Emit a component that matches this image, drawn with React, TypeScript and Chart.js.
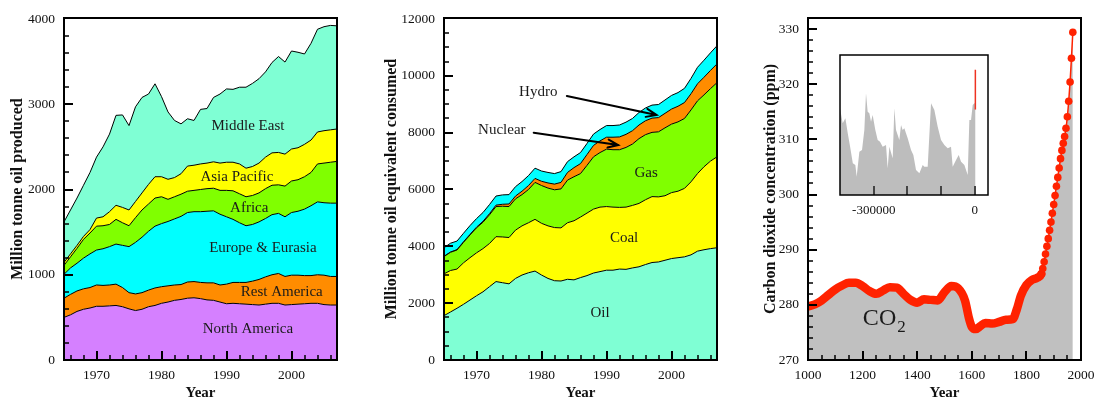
import React, { useEffect, useRef } from "react";
import { Chart, registerables } from "chart.js";

Chart.register(...registerables);

const FONT = "'Liberation Serif', 'DejaVu Serif', serif";

// ---------------- Shared years (panels 1 & 2) ----------------
const years = [
  1965, 1966, 1967, 1968, 1969, 1970, 1971, 1972, 1973, 1974,
  1975, 1976, 1977, 1978, 1979, 1980, 1981, 1982, 1983, 1984,
  1985, 1986, 1987, 1988, 1989, 1990, 1991, 1992, 1993, 1994,
  1995, 1996, 1997, 1998, 1999, 2000, 2001, 2002, 2003, 2004,
  2005, 2006, 2007,
];

// ---------------- Panel 1: oil production by region (Mt) ----------------
const regionNames = ["North America", "Rest America", "Europe & Eurasia", "Africa", "Asia Pacific", "Middle East"];
const northAmerica = [500, 530, 570, 595, 610, 630, 630, 635, 640, 625, 600, 580, 595, 625, 640, 665, 680, 700, 710, 725, 730, 720, 705, 700, 680, 660, 665, 660, 655, 650, 645, 655, 665, 665, 645, 650, 655, 660, 665, 665, 650, 645, 645];
const restAmerica = [225, 240, 240, 240, 240, 250, 245, 245, 250, 225, 190, 195, 195, 195, 205, 195, 190, 180, 175, 190, 190, 190, 200, 205, 200, 230, 245, 250, 255, 275, 300, 320, 335, 350, 335, 345, 340, 330, 325, 335, 345, 335, 335];
const europeEurasia = [280, 310, 325, 360, 395, 410, 430, 450, 470, 495, 540, 605, 650, 690, 725, 740, 755, 775, 800, 815, 820, 830, 840, 845, 830, 790, 740, 700, 665, 665, 675, 685, 705, 705, 700, 735, 750, 780, 820, 855, 850, 860, 860];
const africa = [105, 130, 175, 220, 245, 280, 270, 260, 290, 265, 245, 290, 320, 320, 330, 315, 260, 260, 260, 250, 250, 260, 265, 265, 280, 310, 335, 340, 340, 340, 340, 350, 345, 335, 360, 370, 370, 380, 390, 445, 465, 480, 490];
const asiaPacific = [35, 35, 35, 35, 40, 95, 105, 150, 165, 180, 185, 190, 200, 230, 250, 235, 235, 225, 240, 295, 295, 300, 300, 310, 320, 330, 335, 350, 335, 340, 350, 370, 380, 380, 375, 375, 375, 380, 380, 375, 380, 380, 380];
const middleEast = [475, 515, 555, 600, 670, 715, 820, 910, 1055, 1085, 990, 1110, 1120, 1060, 1090, 940, 790, 670, 585, 555, 525, 640, 640, 755, 810, 860, 855, 900, 950, 975, 990, 1000, 1060, 1125, 1080, 1150, 1120, 1060, 1135, 1205, 1220, 1225, 1210];
const regionColors = ["#d580ff", "#ff8c00", "#00ffff", "#80ff00", "#ffff00", "#7fffd4"];
const oilXTicks = [1970, 1980, 1990, 2000];
const oilYTicks = [0, 1000, 2000, 3000, 4000];

// ---------------- Panel 2: primary energy consumption (Mtoe) ----------------
const fuelNames = ["Oil", "Coal", "Gas", "Nuclear", "Hydro"];
const oil = [1560, 1690, 1820, 1960, 2110, 2260, 2400, 2580, 2760, 2720, 2680, 2870, 2990, 3070, 3130, 2990, 2870, 2790, 2780, 2840, 2820, 2900, 2970, 3060, 3110, 3160, 3160, 3200, 3190, 3240, 3280, 3360, 3430, 3450, 3510, 3570, 3600, 3630, 3700, 3830, 3880, 3920, 3950];
const coal = [1470, 1460, 1380, 1460, 1490, 1510, 1520, 1520, 1580, 1610, 1630, 1700, 1730, 1760, 1820, 1820, 1850, 1870, 1870, 1990, 2080, 2130, 2200, 2250, 2270, 2240, 2220, 2170, 2190, 2200, 2230, 2280, 2320, 2290, 2270, 2320, 2340, 2410, 2570, 2730, 2920, 3080, 3200];
const gas = [610, 640, 670, 720, 800, 880, 930, 1010, 1060, 1080, 1090, 1100, 1100, 1170, 1300, 1330, 1330, 1330, 1370, 1500, 1550, 1530, 1680, 1840, 1920, 2020, 2020, 2030, 2100, 2160, 2280, 2290, 2260, 2290, 2390, 2410, 2440, 2460, 2530, 2560, 2530, 2550, 2610];
const nuclear = [10, 10, 15, 20, 20, 25, 30, 40, 50, 70, 90, 100, 120, 140, 140, 150, 180, 200, 230, 270, 320, 350, 380, 400, 410, 420, 440, 450, 460, 470, 480, 490, 500, 500, 510, 530, 550, 560, 570, 600, 620, 640, 660];
const hydro = [300, 310, 300, 300, 310, 300, 310, 320, 320, 330, 330, 330, 340, 350, 360, 360, 370, 370, 380, 380, 380, 390, 390, 400, 400, 410, 410, 420, 430, 430, 440, 450, 460, 460, 470, 480, 480, 500, 540, 580, 600, 620, 640];
const fuelColors = ["#7fffd4", "#ffff00", "#80ff00", "#ff8c00", "#00ffff"];
const energyYTicks = [0, 2000, 4000, 6000, 8000, 10000, 12000];

// ---------------- Panel 3: CO2 concentration (ppm) ----------------
const co2Years = [1000, 1025, 1050, 1075, 1100, 1125, 1150, 1175, 1200, 1225, 1250, 1275, 1300, 1325, 1350, 1375, 1400, 1425, 1450, 1475, 1500, 1525, 1550, 1575, 1590, 1600, 1615, 1630, 1650, 1675, 1700, 1725, 1750, 1765, 1780, 1800, 1820, 1840, 1855, 1860, 1865, 1870, 1875, 1880, 1885, 1890, 1895, 1900, 1905, 1910, 1915, 1920, 1925, 1930, 1935, 1940, 1945, 1950, 1955, 1960, 1965, 1970];
const co2Ppm = [279.7, 280.1, 280.8, 281.8, 282.8, 283.5, 284.0, 284.0, 283.4, 282.5, 282.0, 282.6, 283.2, 283.1, 282.0, 280.9, 280.4, 281.0, 280.9, 280.8, 282.3, 283.4, 283.0, 280.8, 277.5, 276.0, 275.6, 276.1, 276.7, 276.6, 276.9, 277.3, 277.4, 279.2, 281.7, 283.6, 284.5, 284.9, 285.6, 286.6, 287.8, 289.2, 290.6, 292.0, 293.5, 295.0, 296.6, 298.2, 299.8, 301.5, 303.1, 304.8, 306.5, 308.0, 309.3, 310.5, 312.0, 314.1, 316.9, 320.4, 324.7, 329.4];
const co2XTicks = [1000, 1200, 1400, 1600, 1800, 2000];
const co2YTicks = [270, 280, 290, 300, 310, 320, 330];

// ---------------- Inset: ice-core CO2 over 400 000 years ----------------
const iceAge = [-400000, -392000, -384000, -377000, -370000, -362000, -354500, -350500, -342600, -334700, -327800, -322900, -317900, -313000, -308000, -303100, -295200, -288200, -281300, -273400, -263500, -258600, -253600, -243700, -238800, -233800, -224000, -219000, -214100, -209100, -204200, -199200, -189300, -182400, -174500, -164600, -154700, -149800, -139900, -130000, -120100, -110200, -100300, -90400, -80500, -70700, -65700, -55800, -47900, -40900, -31100, -21200, -16300, -11300, -6400, -1400, 2000];
const iceCo2 = [277.6, 257.3, 264.0, 243.7, 225.6, 203.0, 200.7, 184.9, 218.8, 221.1, 248.2, 298.0, 273.1, 270.9, 259.5, 268.6, 248.2, 234.6, 232.3, 225.6, 227.9, 196.2, 225.6, 209.8, 277.6, 248.2, 234.6, 255.0, 248.2, 250.5, 243.7, 236.9, 221.1, 214.3, 193.9, 189.4, 200.7, 198.4, 198.4, 284.4, 275.3, 252.7, 234.6, 227.9, 223.4, 225.6, 198.4, 207.5, 214.3, 205.2, 200.7, 187.1, 261.8, 261.8, 282.1, 284.4, 284.4];
const modernAge = [1500, 1500];
const modernCo2 = [276, 330];
const insetXTicks = [-300000, 0];

// ---------------- styling ----------------
const TICK_FONT = { family: FONT, size: 13.5 };
const Y_TITLE_FONT = { family: FONT, size: 16, weight: "bold" as const, lineHeight: 1.2 };
const X_TITLE_FONT = { family: FONT, size: 15, weight: "bold" as const, lineHeight: 1.2 };
const RED = "#ff2200";
const DOT_FROM = 1855;

type Label = { text: string; x: number; y: number; size: number; align?: CanvasTextAlign; baseline?: CanvasTextBaseline; sub?: string };
type Arrow = { from: [number, number]; to: [number, number] };
type Decor = {
  labels: Label[];
  arrows: Arrow[];
  xMajor: number; xMinor: number; yMajor?: number; yMinor?: number;
  frame: number; majorLen: number; minorLen: number; tickColor: string;
  whiteBg?: boolean;
};

function decorPlugin(d: Decor) {
  return {
    id: "decor",
    beforeDatasetsDraw(chart: any) {
      if (!d.whiteBg) return;
      const { ctx, chartArea: a } = chart;
      ctx.save();
      ctx.fillStyle = "#fff";
      ctx.fillRect(a.left, a.top, a.right - a.left, a.bottom - a.top);
      ctx.restore();
    },
    afterDatasetsDraw(chart: any) {
      const { ctx, chartArea: a, scales } = chart;
      const xs = scales.x, ys = scales.y;
      ctx.save();
      for (const l of d.labels) {
        const px = xs.getPixelForValue(l.x);
        const py = ys.getPixelForValue(l.y);
        ctx.fillStyle = "#1a1a1a";
        ctx.font = `${l.size}px ${FONT}`;
        ctx.textAlign = l.align || "center";
        ctx.textBaseline = l.baseline || "middle";
        ctx.fillText(l.text, px, py);
        if (l.sub) {
          const w = ctx.measureText(l.text).width;
          ctx.font = `${Math.round(l.size * 0.7)}px ${FONT}`;
          ctx.textAlign = "left";
          ctx.fillText(l.sub, px + w + 1, py + l.size * 0.28);
        }
      }
      ctx.strokeStyle = "#000";
      ctx.lineWidth = 2;
      ctx.lineCap = "round";
      for (const ar of d.arrows) {
        const x0 = xs.getPixelForValue(ar.from[0]), y0 = ys.getPixelForValue(ar.from[1]);
        const x1 = xs.getPixelForValue(ar.to[0]), y1 = ys.getPixelForValue(ar.to[1]);
        const ang = Math.atan2(y1 - y0, x1 - x0);
        ctx.beginPath();
        ctx.moveTo(x0, y0);
        ctx.lineTo(x1, y1);
        ctx.moveTo(x1 - 11 * Math.cos(ang - 0.38), y1 - 11 * Math.sin(ang - 0.38));
        ctx.lineTo(x1, y1);
        ctx.lineTo(x1 - 11 * Math.cos(ang + 0.38), y1 - 11 * Math.sin(ang + 0.38));
        ctx.stroke();
      }
      ctx.strokeStyle = d.tickColor;
      ctx.lineCap = "butt";
      const eps = 1e-6;
      const isMajor = (v: number, m: number) => Math.abs(v / m - Math.round(v / m)) < eps;
      for (let v = Math.ceil(xs.min / d.xMinor) * d.xMinor; v <= xs.max + eps; v += d.xMinor) {
        const px = Math.round(xs.getPixelForValue(v));
        if (px <= a.left + 1 || px >= a.right - 1) continue;
        const maj = isMajor(v, d.xMajor);
        ctx.lineWidth = maj ? 2 : 1.5;
        ctx.beginPath();
        ctx.moveTo(px, a.bottom);
        ctx.lineTo(px, a.bottom - (maj ? d.majorLen : d.minorLen));
        ctx.stroke();
      }
      if (d.yMinor && d.yMajor) {
        for (let v = Math.ceil(ys.min / d.yMinor) * d.yMinor; v <= ys.max + eps; v += d.yMinor) {
          const py = Math.round(ys.getPixelForValue(v));
          if (py <= a.top + 1 || py >= a.bottom - 1) continue;
          const maj = isMajor(v, d.yMajor);
          ctx.lineWidth = maj ? 2 : 1.5;
          ctx.beginPath();
          ctx.moveTo(a.left, py);
          ctx.lineTo(a.left + (maj ? d.majorLen : d.minorLen), py);
          ctx.stroke();
        }
      }
      ctx.strokeStyle = "#000";
      ctx.lineWidth = d.frame;
      ctx.strokeRect(a.left, a.top, a.right - a.left, a.bottom - a.top);
      ctx.restore();
    },
  };
}

type AxisSpec = {
  xMin: number; xMax: number; xTicks: number[];
  yMin: number; yMax: number; yTicks: number[];
  yTitle: string; yWidth: number; yTitlePad: number; rightPad: number; stacked: boolean;
};

function baseOptions(s: AxisSpec): any {
  return {
    responsive: false,
    maintainAspectRatio: false,
    animation: false,
    events: [],
    layout: { padding: { left: 0, top: 18, right: s.rightPad, bottom: 0 }, autoPadding: false },
    plugins: { legend: { display: false }, tooltip: { enabled: false }, title: { display: false } },
    scales: {
      x: {
        type: "linear",
        position: "bottom",
        min: s.xMin,
        max: s.xMax,
        grid: { display: false, drawTicks: false },
        border: { display: false },
        ticks: { font: TICK_FONT, color: "#111", padding: 7, maxRotation: 0, autoSkip: false, callback: (v: number) => String(v) },
        afterBuildTicks: (sc: any) => { sc.ticks = s.xTicks.map((value) => ({ value })); },
        afterFit: (sc: any) => { sc.height = 39; sc.paddingLeft = 0; sc.paddingRight = 0; },
        title: { display: true, text: "Year", font: X_TITLE_FONT, color: "#111", padding: { top: 0, bottom: -3 } },
      },
      y: {
        type: "linear",
        position: "left",
        min: s.yMin,
        max: s.yMax,
        stacked: s.stacked,
        grid: { display: false, drawTicks: false },
        border: { display: false },
        ticks: { font: TICK_FONT, color: "#111", padding: 9, autoSkip: false, callback: (v: number) => String(v) },
        afterBuildTicks: (sc: any) => { sc.ticks = s.yTicks.map((value) => ({ value })); },
        afterFit: (sc: any) => { sc.width = s.yWidth; sc.paddingTop = 0; sc.paddingBottom = 0; },
        title: { display: true, text: s.yTitle, font: Y_TITLE_FONT, color: "#111", padding: { top: s.yTitlePad, bottom: 0 } },
      },
    },
  };
}

function stackedDatasets(names: string[], series: number[][], colors: string[]) {
  return series.map((vals, i) => ({
    label: names[i],
    data: years.map((x, j) => ({ x, y: vals[j] })),
    fill: i === 0 ? "origin" : "-1",
    backgroundColor: colors[i],
    borderColor: "#000",
    borderWidth: 1,
    pointRadius: 0,
    tension: 0,
  }));
}

function buildOil(): any {
  return {
    type: "line",
    data: { datasets: stackedDatasets(regionNames, [northAmerica, restAmerica, europeEurasia, africa, asiaPacific, middleEast], regionColors) },
    options: baseOptions({ xMin: 1965, xMax: 2007, xTicks: oilXTicks, yMin: 0, yMax: 4012, yTicks: oilYTicks, yTitle: "Million tonne oil produced", yWidth: 64, yTitlePad: 8, rightPad: 13, stacked: true }),
    plugins: [decorPlugin({
      labels: [
        { text: "Middle East", x: 1993.3, y: 2745, size: 15 },
        { text: "Asia Pacific", x: 1991.6, y: 2147, size: 15 },
        { text: "Africa", x: 1993.5, y: 1783, size: 15 },
        { text: "Europe & Eurasia", x: 1995.6, y: 1314, size: 15 },
        { text: "Rest America", x: 1998.5, y: 798, size: 15 },
        { text: "North America", x: 1993.3, y: 364, size: 15 },
      ],
      arrows: [],
      xMajor: 10, xMinor: 2, yMajor: 1000, yMinor: 200,
      frame: 2, majorLen: 9, minorLen: 5, tickColor: "#000",
    })],
  };
}

function buildEnergy(): any {
  return {
    type: "line",
    data: { datasets: stackedDatasets(fuelNames, [oil, coal, gas, nuclear, hydro], fuelColors) },
    options: baseOptions({ xMin: 1965, xMax: 2007, xTicks: oilXTicks, yMin: 0, yMax: 12035, yTicks: energyYTicks, yTitle: "Million tonne oil equivalent consumed", yWidth: 74, yTitlePad: 12, rightPad: 13, stacked: true }),
    plugins: [decorPlugin({
      labels: [
        { text: "Hydro", x: 1979.5, y: 9431, size: 15 },
        { text: "Nuclear", x: 1973.9, y: 8094, size: 15 },
        { text: "Gas", x: 1996.1, y: 6581, size: 15 },
        { text: "Coal", x: 1992.7, y: 4293, size: 15 },
        { text: "Oil", x: 1989.0, y: 1654, size: 15 },
      ],
      arrows: [
        { from: [1983.9, 9290], to: [1997.7, 8622] },
        { from: [1978.8, 7999], to: [1991.8, 7565] },
      ],
      xMajor: 10, xMinor: 2, yMajor: 2000, yMinor: 500,
      frame: 2, majorLen: 9, minorLen: 5, tickColor: "#000",
    })],
  };
}

function buildCo2(): any {
  const pts = co2Years.map((x, i) => ({ x, y: co2Ppm[i] }));
  return {
    type: "line",
    data: {
      datasets: [
        {
          label: "CO2",
          data: pts,
          fill: false,
          borderColor: RED,
          borderWidth: 1.5,
          borderCapStyle: "round",
          borderJoinStyle: "round",
          cubicInterpolationMode: "monotone",
          segment: { borderWidth: (c: any) => (c.p0.parsed.x >= DOT_FROM ? 1.5 : 8.5) },
          pointRadius: (c: any) => (c.dataIndex !== undefined && co2Years[c.dataIndex] >= DOT_FROM ? 3.8 : 0),
          pointBackgroundColor: RED,
          pointBorderColor: RED,
          pointBorderWidth: 0,
        },
        {
          label: "CO2 area",
          data: pts,
          fill: "start",
          backgroundColor: "#c0c0c0",
          borderWidth: 0,
          borderColor: "rgba(0,0,0,0)",
          cubicInterpolationMode: "monotone",
          pointRadius: 0,
        },
      ],
    },
    options: baseOptions({ xMin: 1000, xMax: 2000, xTicks: co2XTicks, yMin: 270, yMax: 332, yTicks: co2YTicks, yTitle: "Carbon dioxide concentration (ppm)", yWidth: 58, yTitlePad: 11, rightPad: 13, stacked: false }),
    plugins: [decorPlugin({
      labels: [{ text: "CO", sub: "2", x: 1201, y: 276.35, size: 24, align: "left", baseline: "alphabetic" }],
      arrows: [],
      xMajor: 200, xMinor: 50, yMajor: 10, yMinor: 2,
      frame: 2, majorLen: 9, minorLen: 5, tickColor: "#000",
    })],
  };
}

function buildInset(): any {
  return {
    type: "line",
    data: {
      datasets: [
        {
          label: "modern",
          data: modernAge.map((x, i) => ({ x, y: modernCo2[i] })),
          fill: false,
          borderColor: "#ee3322",
          borderWidth: 1.5,
          pointRadius: 0,
        },
        {
          label: "ice core",
          data: iceAge.map((x, i) => ({ x, y: iceCo2[i] })),
          fill: "start",
          backgroundColor: "#bdbdbd",
          borderWidth: 0,
          borderColor: "rgba(0,0,0,0)",
          pointRadius: 0,
          tension: 0,
        },
      ],
    },
    options: {
      responsive: false,
      maintainAspectRatio: false,
      animation: false,
      events: [],
      layout: { padding: { left: 10, top: 10, right: 12, bottom: 0 }, autoPadding: false },
      plugins: { legend: { display: false }, tooltip: { enabled: false } },
      scales: {
        x: {
          type: "linear",
          min: -400000,
          max: 39000,
          grid: { display: false, drawTicks: false },
          border: { display: false },
          ticks: { font: { family: FONT, size: 13 }, color: "#111", padding: 8, maxRotation: 0, autoSkip: false, callback: (v: number) => String(v) },
          afterBuildTicks: (sc: any) => { sc.ticks = insetXTicks.map((value) => ({ value })); },
          afterFit: (sc: any) => { sc.height = 30; sc.paddingLeft = 0; sc.paddingRight = 0; },
        },
        y: { type: "linear", display: false, min: 160, max: 350 },
      },
    },
    plugins: [decorPlugin({
      labels: [],
      arrows: [],
      xMajor: 100000, xMinor: 100000,
      frame: 1.5, majorLen: 9, minorLen: 9, tickColor: "#444",
      whiteBg: true,
    })],
  };
}

function ChartCanvas(props: { left: number; top: number; width: number; height: number; build: () => any }) {
  const ref = useRef<HTMLCanvasElement | null>(null);
  useEffect(() => {
    const chart = new Chart(ref.current as HTMLCanvasElement, props.build());
    return () => chart.destroy();
  }, []);
  return (
    <canvas
      ref={ref}
      width={props.width}
      height={props.height}
      style={{ position: "absolute", left: props.left, top: props.top, width: props.width, height: props.height }}
    />
  );
}

export default function App() {
  return (
    <div style={{ position: "absolute", left: 0, top: 0, width: 1094, height: 399, overflow: "hidden", background: "#fff" }}>
      <ChartCanvas left={0} top={0} width={350} height={399} build={buildOil} />
      <ChartCanvas left={370} top={0} width={360} height={399} build={buildEnergy} />
      <ChartCanvas left={750} top={0} width={344} height={399} build={buildCo2} />
      <ChartCanvas left={830} top={45} width={170} height={180} build={buildInset} />
    </div>
  );
}
